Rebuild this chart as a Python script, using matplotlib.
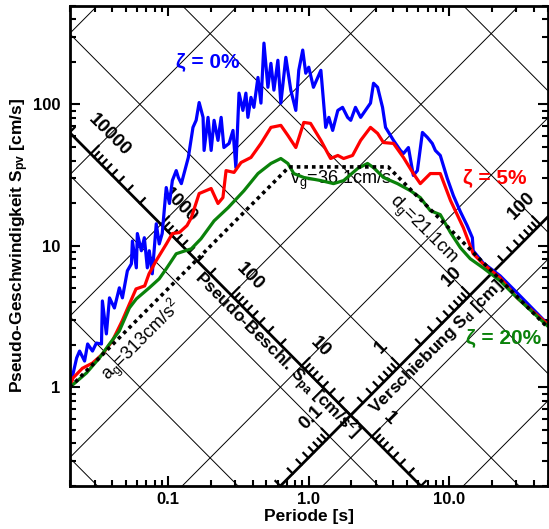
import numpy as np
import matplotlib
matplotlib.use("Agg")
import matplotlib.pyplot as plt
from matplotlib.ticker import NullFormatter

plt.rcParams.update({
    "font.family": ["Liberation Sans", "DejaVu Sans"],
    "mathtext.fontset": "custom",
    "mathtext.rm": "Liberation Sans",
    "mathtext.it": "Liberation Sans:italic",
    "mathtext.bf": "Liberation Sans:bold",
})

# response spectra, period [s] and pseudo velocity [cm/s]
T_00 = [0.02, 0.0223, 0.0234, 0.0254, 0.0267, 0.0289, 0.0308, 0.0335, 0.034, 0.0363,
        0.0382, 0.0414, 0.0449, 0.0472, 0.0512, 0.0547, 0.0556, 0.0593, 0.0603, 0.0644,
        0.0676, 0.071, 0.0733, 0.077, 0.0822, 0.0863, 0.0906, 0.0968, 0.102, 0.107,
        0.114, 0.118, 0.124, 0.139, 0.150, 0.158, 0.166, 0.177, 0.180, 0.192,
        0.202, 0.212, 0.226, 0.238, 0.249, 0.271, 0.289, 0.303, 0.319, 0.340,
        0.357, 0.369, 0.388, 0.407, 0.435, 0.457, 0.480, 0.512, 0.538, 0.565,
        0.603, 0.633, 0.687, 0.745, 0.809, 0.849, 0.906, 0.952, 1.00, 1.08,
        1.22, 1.32, 1.39, 1.48, 1.61, 1.74, 1.89, 1.99, 2.15, 2.34,
        2.62, 2.75, 2.89, 3.09, 3.35, 3.52, 4.01, 4.49, 4.72, 5.12,
        5.55, 5.93, 6.44, 6.98, 7.57, 7.96, 8.63, 9.68, 10.7, 12.0,
        13.4, 14.6, 14.8, 17.4, 23.0, 30.4, 50.0]
SV_00 = [1.0, 1.61, 1.80, 1.53, 2.02, 1.80, 2.05, 2.02, 4.07, 2.38,
         4.28, 3.63, 5.04, 4.28, 6.65, 7.45, 10.8, 6.98, 12.2, 9.22,
         11.4, 6.98, 9.22, 6.33, 14.3, 10.3, 12.2, 25.8, 19.9, 28.9,
         34.0, 30.4, 27.5, 42.1, 68.7, 77.1, 103, 80.9, 47.2, 80.9,
         47.2, 77.1, 55.6, 80.9, 49.5, 52.9, 65.4, 35.7, 120, 90.6,
         120, 80.9, 112, 95.2, 155, 102, 271, 132, 195, 126,
         205, 102, 215, 126, 90.6, 174, 242, 166, 183, 132,
         174, 68.7, 80.9, 65.4, 90.6, 95.2, 80.9, 77.1, 95.2, 80.9,
         95.2, 102, 141, 132, 95.2, 68.7, 55.6, 47.2, 44.9, 49.5,
         31.4, 34.0, 63.3, 58.4, 52.9, 47.2, 43.5, 29.9, 22.6, 17.4,
         13.9, 11.4, 9.22, 7.57, 6.13, 4.64, 2.80]

T_05 = [0.02, 0.021, 0.0245, 0.0289, 0.034, 0.040, 0.047, 0.053, 0.059, 0.068,
        0.073, 0.082, 0.097, 0.107, 0.120, 0.136, 0.146, 0.166, 0.202, 0.226,
        0.245, 0.258, 0.294, 0.330, 0.388, 0.457, 0.538, 0.633, 0.710, 0.809,
        0.922, 1.03, 1.22, 1.43, 1.61, 1.77, 2.05, 2.34, 2.75, 3.09,
        3.40, 4.01, 4.72, 5.55, 6.22, 7.33, 8.63, 10.2, 12.6, 14.8,
        17.4, 23.0, 30.4, 50.0]
SV_05 = [1.0, 1.16, 1.36, 1.48, 1.71, 2.12, 2.94, 3.88, 4.95, 5.20,
         6.33, 7.83, 10.3, 12.2, 12.4, 13.9, 15.8, 23.4, 25.4, 19.9,
         21.9, 34.0, 33.0, 38.8, 42.1, 52.9, 68.7, 71.0, 60.3, 49.5,
         74.5, 73.3, 55.6, 41.4, 43.5, 41.4, 43.5, 55.6, 68.7, 62.3,
         53.7, 52.9, 42.1, 32.4, 27.5, 32.4, 32.4, 20.9, 13.4, 8.78,
         7.45, 5.93, 4.28, 2.80]

T_20 = [0.02, 0.0262, 0.0324, 0.0382, 0.0449, 0.0529, 0.0593, 0.0733, 0.0863, 0.0968,
        0.114, 0.146, 0.171, 0.212, 0.267, 0.346, 0.435, 0.538, 0.633, 0.710,
        0.783, 0.922, 1.22, 1.50, 1.77, 2.23, 2.62, 2.89, 3.40, 4.28,
        5.29, 6.22, 7.33, 8.63, 10.2, 12.0, 14.1, 17.4, 23.0, 30.4, 50.0]
SV_20 = [1.0, 1.26, 1.61, 2.02, 2.50, 3.63, 4.21, 5.04, 5.84, 6.87,
         8.78, 9.52, 11.2, 15.0, 18.6, 24.5, 32.4, 38.2, 41.4, 38.2,
         32.4, 30.4, 28.9, 27.5, 28.9, 35.2, 38.2, 35.7, 30.4, 27.5,
         24.5, 21.9, 17.7, 16.6, 12.4, 9.68, 8.09, 6.98, 5.65, 4.28, 2.71]

# design envelope
AG = 313.0   # cm/s^2
VG = 36.1    # cm/s
DG = 21.1    # cm

T_RANGE = [0.02, 50.0]
SV_RANGE = [0.2, 500.0]
X_TICKS = [0.1, 1.0, 10.0]
X_LABELS = ["0.1", "1.0", "10.0"]
Y_TICKS = [1, 10, 100]
Y_LABELS = ["1", "10", "100"]

SA_GRID = [0.01, 0.1, 1, 10, 100, 1000, 1e4, 1e5, 1e6]
SD_GRID = [1e-4, 1e-3, 0.01, 0.1, 1, 10, 100, 1000, 1e4]
SA_AXIS_SD = 0.2     # Sa scale drawn along this Sd line [cm]
SD_AXIS_SA = 2.0     # Sd scale drawn along this Sa line [cm/s^2]
SA_DECADES = [0.1, 1, 10, 100, 1000, 10000]
SA_LABELS = ["1", "10", "100", "1000", "10000"]
SD_DECADES = [0.01, 0.1, 1, 10, 100]
SD_LABELS = ["0.1", "1", "10", "100"]

TWO_PI = 2 * np.pi

fig = plt.figure(figsize=(5.49, 5.29), dpi=100)
ax = fig.add_axes([70 / 549, 43 / 529, 477.5 / 549, 480.5 / 529])
ax.set_xscale("log")
ax.set_yscale("log")
ax.set_xlim(T_RANGE)
ax.set_ylim(SV_RANGE)

# pixels per decade (same on both axes)
ppd = 477.5 / np.log10(T_RANGE[1] / T_RANGE[0])


def shift(t, sv, px, ux, uy):
    d = px / ppd / np.sqrt(2)
    return t * 10 ** (ux * d), sv * 10 ** (uy * d)


tt = np.array(T_RANGE)
for s in SA_GRID:
    ax.plot(tt, s * tt / TWO_PI, color="k", lw=0.7, zorder=1)
for d in SD_GRID:
    ax.plot(tt, TWO_PI * d / tt, color="k", lw=0.7, zorder=1)

# Sa scale
ax.plot(tt, TWO_PI * SA_AXIS_SD / tt, color="k", lw=2.0, zorder=2)
for dec in SA_DECADES:
    for m in range(1, 10):
        s = m * dec
        t0 = TWO_PI * np.sqrt(SA_AXIS_SD / s)
        v0 = np.sqrt(SA_AXIS_SD * s)
        t1, v1 = shift(t0, v0, 11 if m == 1 else 7, 1, 1)
        ax.plot([t0, t1], [v0, v1], color="k", lw=1.6, zorder=2)
for lab in SA_LABELS:
    s = float(lab)
    t0 = TWO_PI * np.sqrt(SA_AXIS_SD / s)
    v0 = np.sqrt(SA_AXIS_SD * s)
    tl, vl = shift(t0, v0, 26, 1, 1)
    ax.text(tl, vl, lab, rotation=-45, rotation_mode="anchor", ha="center",
            va="center", fontsize=13.5, fontweight="bold", zorder=2, clip_on=True)
tl, vl = shift(0.665, TWO_PI * SA_AXIS_SD / 0.665, 11, -1, -1)
ax.text(tl, vl, r"Pseudo-Beschl. S$_{\mathbf{pa}}$ [cm/s$^{\mathbf{2}}$]",
        rotation=-45, rotation_mode="anchor", ha="center", va="center",
        fontsize=12.5, fontweight="bold", zorder=2)

# Sd scale
ax.plot(tt, SD_AXIS_SA * tt / TWO_PI, color="k", lw=2.0, zorder=2)
for dec in SD_DECADES:
    for m in range(1, 10):
        d = m * dec
        t0 = TWO_PI * np.sqrt(d / SD_AXIS_SA)
        v0 = np.sqrt(d * SD_AXIS_SA)
        t1, v1 = shift(t0, v0, 11 if m == 1 else 7, -1, 1)
        ax.plot([t0, t1], [v0, v1], color="k", lw=1.6, zorder=2)
for lab in SD_LABELS:
    d = float(lab)
    t0 = TWO_PI * np.sqrt(d / SD_AXIS_SA)
    v0 = np.sqrt(d * SD_AXIS_SA)
    tl, vl = shift(t0, v0, 26, -1, 1)
    ax.text(tl, vl, lab, rotation=45, rotation_mode="anchor", ha="center",
            va="center", fontsize=13.5, fontweight="bold", zorder=2, clip_on=True)
tl, vl = shift(7.0, SD_AXIS_SA * 7.0 / TWO_PI, 13, 1, -1)
ax.text(tl, vl, r"Verschiebung S$_{\mathbf{d}}$ [cm]",
        rotation=45, rotation_mode="anchor", ha="center", va="center",
        fontsize=12.5, fontweight="bold", zorder=2)

# spectra
ax.plot(T_00, SV_00, color="#0000ff", lw=2.3, zorder=4)
ax.plot(T_05, SV_05, color="#ff0000", lw=2.3, zorder=4)
ax.plot(T_20, SV_20, color="#0a820a", lw=2.3, zorder=4)

# envelope
t1 = TWO_PI * VG / AG
t2 = TWO_PI * DG / VG
env_t = [T_RANGE[0], t1, t2, T_RANGE[1]]
env_v = [AG * T_RANGE[0] / TWO_PI, VG, VG, TWO_PI * DG / T_RANGE[1]]
ax.plot(env_t, env_v, color="k", lw=2.6, ls=(0, (1, 1.1)), zorder=5)

ax.text(0.0644, 2.12, "a$_{\\mathrm{g}}$=%.0fcm/s$^{\\mathrm{2}}$" % AG, rotation=45,
        rotation_mode="anchor", ha="center", va="center", fontsize=13, zorder=3)
ax.text(1.69, 28.9, "v$_{\\mathrm{g}}$=%.1fcm/s" % VG,
        ha="center", va="center", fontsize=13, zorder=3)
ax.text(6.44, 13.0, "d$_{\\mathrm{g}}$=%.1fcm" % DG, rotation=-45,
        rotation_mode="anchor", ha="center", va="center", fontsize=13, zorder=3)

ax.text(0.192, 199, "ζ = 0%", color="#0000ff", fontsize=15, fontweight="bold",
        ha="center", va="center", zorder=6)
ax.text(20.9, 30.4, "ζ = 5%", color="#ff0000", fontsize=15, fontweight="bold",
        ha="center", va="center", zorder=6)
ax.text(24.2, 2.23, "ζ = 20%", color="#0a820a", fontsize=15, fontweight="bold",
        ha="center", va="center", zorder=6)

ax.set_xticks(X_TICKS)
ax.set_xticklabels(X_LABELS, fontsize=12, fontweight="bold")
ax.set_yticks(Y_TICKS)
ax.set_yticklabels(Y_LABELS, fontsize=12, fontweight="bold")
ax.xaxis.set_minor_formatter(NullFormatter())
ax.yaxis.set_minor_formatter(NullFormatter())
ax.set_xlim(T_RANGE)
ax.set_ylim(SV_RANGE)
ax.tick_params(which="both", direction="in", top=True, right=True, width=1.5)
ax.tick_params(which="major", length=7)
ax.tick_params(which="minor", length=4.5)
ax.tick_params(axis="x", pad=4)
ax.tick_params(axis="y", pad=7)
for sp in ax.spines.values():
    sp.set_linewidth(2.0)
    sp.set_zorder(7)

ax.set_xlabel("Periode [s]", fontsize=12.5, fontweight="bold", labelpad=2)
ax.set_ylabel(r"Pseudo-Geschwindigkeit S$_{\mathbf{pv}}$ [cm/s]", fontsize=12.5,
              fontweight="bold", labelpad=1)

fig.savefig("out.png", dpi=100)
